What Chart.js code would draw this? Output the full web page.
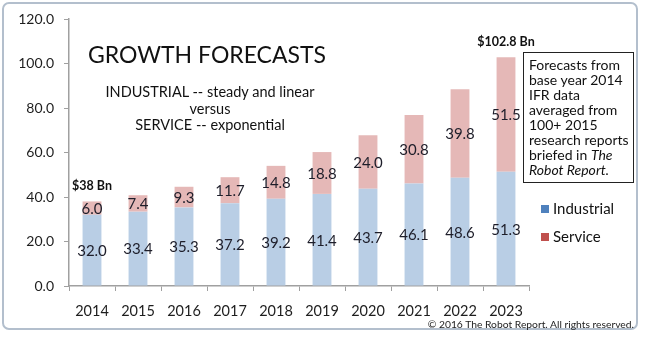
<!DOCTYPE html>
<html>
<head>
<meta charset="utf-8">
<script src="https://cdn.jsdelivr.net/npm/chart.js@4"></script>
<style>
  html, body { margin: 0; padding: 0; background: #fff; }
  #wrap { position: relative; width: 652px; height: 339px; overflow: hidden; font-family: Lato, "Open Sans", sans-serif; color: #1e1e1e; }
  #frame { position: absolute; left: 2px; top: 2px; width: 636px; height: 328px; border: 2px solid #b3bfcd; border-radius: 7px; box-sizing: border-box; }
  canvas { position: absolute; left: 0; top: 0; }
  .titulo { position: absolute; left: 57px; width: 300px; text-align: center; top: 40px; font-size: 23px; color: #111; }
  .sub { position: absolute; left: 60px; width: 300px; text-align: center; font-size: 14.5px; line-height: 16.5px; top: 84px; color: #111; }
  .nota { position: absolute; left: 523px; top: 52px; width: 111px; height: 131px; box-sizing: border-box; border: 1.5px solid #222; padding: 4px 0 0 5px; font-size: 14px; line-height: 15px; color: #111; white-space: nowrap; }
  .leyenda { position: absolute; left: 541px; font-size: 15px; color: #111; }
  .leyenda span { display: inline-block; width: 8px; height: 8px; margin-right: 4px; vertical-align: 1px; }
  .copy { position: absolute; right: 18px; top: 318px; font-size: 10.3px; color: #222; }
</style>
</head>
<body>
<div id="wrap">
  <div id="frame"></div>
  <canvas id="forecastChart" width="652" height="339"></canvas>
  <div class="titulo">GROWTH FORECASTS</div>
  <div class="sub">INDUSTRIAL -- steady and linear<br>versus<br>SERVICE -- exponential</div>
  <div class="nota">Forecasts from<br>base year 2014<br>IFR data<br>averaged from<br>100+ 2015<br>research reports<br>briefed in <i>The</i><br><i>Robot Report.</i></div>
  <div class="leyenda" style="top:199px"><span style="background:#4f81bd"></span>Industrial</div>
  <div class="leyenda" style="top:227px"><span style="background:#c0504d"></span>Service</div>
  <div class="copy">© 2016 The Robot Report. All rights reserved.</div>
</div>
<script>
// Ventas de robots (miles de millones USD)
const years = ['2014', '2015', '2016', '2017', '2018', '2019', '2020', '2021', '2022', '2023'];
const industrial = [32.0, 33.4, 35.3, 37.2, 39.2, 41.4, 43.7, 46.1, 48.6, 51.3];
const service = [6.0, 7.4, 9.3, 11.7, 14.8, 18.8, 24.0, 30.8, 39.8, 51.5];
const yTicks = [0, 20, 40, 60, 80, 100, 120];
// barras que llevan el total encima
const totalIdx = [0, 9];

/**
 * Etiquetas de valor dentro de cada segmento y total encima
 */
const etiquetas = {
    id: 'etiquetas',
    afterDatasetsDraw(chart) {
        const ctx = chart.ctx;
        ctx.save();
        ctx.textAlign = 'center';
        ctx.textBaseline = 'middle';
        ctx.fillStyle = '#1e1e2a';
        ctx.font = '15px Lato, sans-serif';
        chart.data.datasets.forEach((ds, i) => {
            chart.getDatasetMeta(i).data.forEach((bar, j) => {
                const y = (bar.y + bar.base) / 2;
                ctx.fillText(ds.data[j].toFixed(1), bar.x, y + 1);
            });
        });
        ctx.font = 'bold 12.5px Lato, sans-serif';
        ctx.fillStyle = '#111';
        const top = chart.getDatasetMeta(1).data;
        totalIdx.forEach(j => {
            const total = Math.round((industrial[j] + service[j]) * 10) / 10;
            ctx.fillText(`$${total} Bn`, top[j].x, top[j].y - 15);
        });
        ctx.restore();
    }
};

const ctx = document.getElementById('forecastChart').getContext('2d');

new Chart(ctx, {
    type: 'bar',
    data: {
        labels: years,
        datasets: [
            {
                label: 'Industrial',
                data: industrial,
                backgroundColor: '#b9cee5',
                barPercentage: 0.41,
                categoryPercentage: 1
            },
            {
                label: 'Service',
                data: service,
                backgroundColor: '#e5b8b7',
                barPercentage: 0.41,
                categoryPercentage: 1
            }
        ]
    },
    options: {
        responsive: false,
        animation: false,
        layout: { padding: { left: 0, right: 123, top: 19, bottom: 0 } },
        plugins: {
            legend: { display: false },
            tooltip: { enabled: false }
        },
        scales: {
            x: {
                stacked: true,
                grid: { drawOnChartArea: false, color: '#a0a0a0', tickLength: 5 },
                border: { color: '#a0a0a0', width: 1.5 },
                ticks: { color: '#1e1e1e', font: { family: 'Lato', size: 14.5 }, padding: 12 },
                afterFit(scale) { scale.height = 53; }
            },
            y: {
                stacked: true,
                min: 0,
                max: 120,
                afterBuildTicks(scale) { scale.ticks = yTicks.map(v => ({ value: v })); },
                grid: { drawOnChartArea: false, color: '#a0a0a0', tickLength: 5 },
                border: { color: '#a0a0a0', width: 1.5 },
                ticks: {
                    color: '#1e1e1e',
                    font: { family: 'Lato', size: 14 },
                    padding: 10,
                    callback: v => v.toFixed(1)
                },
                afterFit(scale) { scale.width = 69; }
            }
        }
    },
    plugins: [etiquetas]
});
</script>
</body>
</html>
